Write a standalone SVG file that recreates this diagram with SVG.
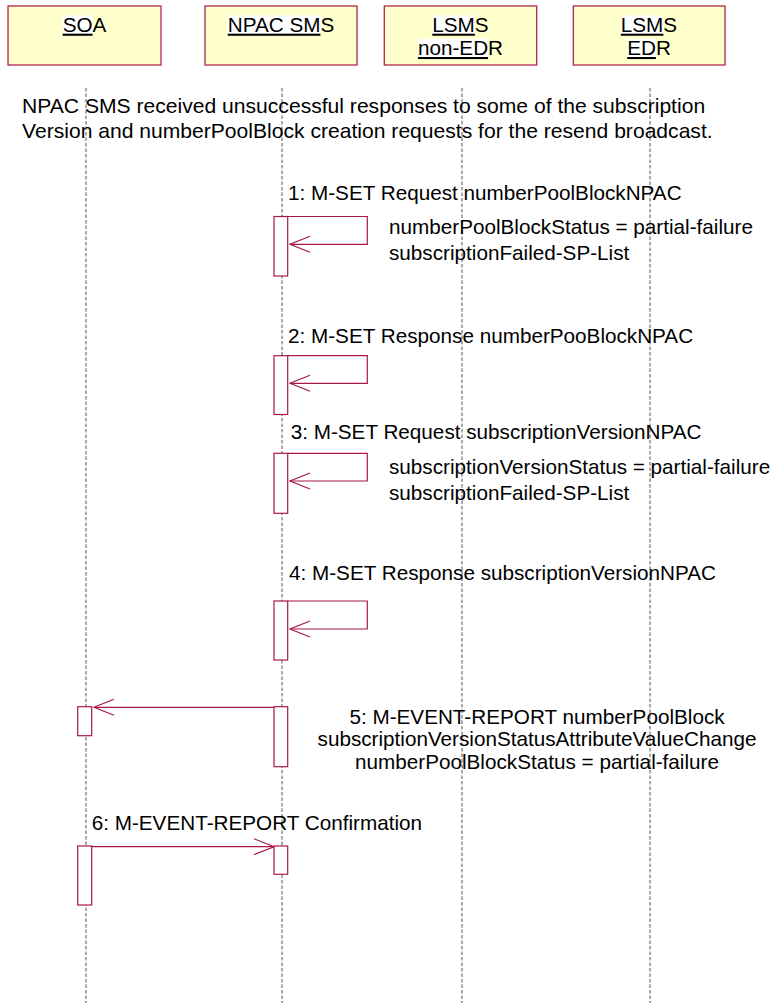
<svg xmlns="http://www.w3.org/2000/svg" width="774" height="1003" viewBox="0 0 774 1003">
<defs>
<style>
text{font-family:"Liberation Sans",Arial,sans-serif;font-size:20.7px;fill:#000}
.big{font-size:21.1px}
.hdr{fill:#FFFFCC;stroke:#B0254F;stroke-width:1.3}
.hl{fill:#fff}
.life{stroke:#555;stroke-width:1;stroke-dasharray:3.5,2;fill:none}
.bar{fill:#fff;stroke:#A8174B;stroke-width:1.2}
.msg{fill:none;stroke:#A8174B;stroke-width:1.2}
.u{text-decoration:underline}
.c{text-anchor:middle}
</style>
<marker id="open" viewBox="0 0 22 18" refX="21" refY="9" markerWidth="22" markerHeight="18" markerUnits="userSpaceOnUse" orient="auto">
<path d="M1,1 L21,9 L1,17" fill="none" stroke="#A8174B" stroke-width="1.2"/>
</marker>
</defs>
<rect width="774" height="1003" fill="#fff"/>

<g id="lifelines">
<line class="life" x1="86" y1="88" x2="86" y2="1003"/>
<line class="life" x1="282" y1="88" x2="282" y2="1003"/>
<line class="life" x1="462" y1="88" x2="462" y2="1003"/>
<line class="life" x1="650" y1="88" x2="650" y2="1003"/>
</g>

<g id="SOA">
<rect class="hdr" x="8" y="6" width="153" height="59"/>
<rect class="hl" x="62.6" y="15.5" width="29.9" height="19"/>
<text class="c" x="84.5" y="31.7"><tspan class="u">SO</tspan>A</text>
</g>
<g id="NPAC_SMS">
<rect class="hdr" x="205" y="6" width="152" height="59"/>
<rect class="hl" x="227" y="15.5" width="94.3" height="19"/>
<text class="c" x="281" y="31.7"><tspan class="u">NPAC SM</tspan>S</text>
</g>
<g id="LSMS_nonEDR">
<rect class="hdr" x="384.3" y="6" width="152.4" height="59"/>
<rect class="hl" x="432.3" y="15.5" width="42.6" height="19"/>
<rect class="hl" x="417.9" y="38.8" width="70.2" height="19"/>
<text class="c" x="460.5" y="31.7"><tspan class="u">LSM</tspan>S</text>
<text class="c" x="460.5" y="55"><tspan class="u">non-ED</tspan>R</text>
</g>
<g id="LSMS_EDR">
<rect class="hdr" x="573.3" y="6" width="151.7" height="59"/>
<rect class="hl" x="620.8" y="15.5" width="42.6" height="19"/>
<rect class="hl" x="627.2" y="38.8" width="28.8" height="19"/>
<text class="c" x="649" y="31.7"><tspan class="u">LSM</tspan>S</text>
<text class="c" x="649" y="55"><tspan class="u">ED</tspan>R</text>
</g>

<g id="note">
<text class="big" x="22" y="113.3">NPAC SMS received unsuccessful responses to some of the subscription</text>
<text class="big" x="22" y="138.3">Version and numberPoolBlock creation requests for the resend broadcast.</text>
</g>

<g id="activations">
<rect class="bar" x="274" y="216.5" width="13.7" height="59.5"/>
<rect class="bar" x="274" y="355.7" width="13.7" height="58.8"/>
<rect class="bar" x="274" y="453.3" width="13.7" height="60"/>
<rect class="bar" x="274" y="601" width="13.7" height="59"/>
<rect class="bar" x="77.7" y="706.7" width="14" height="29"/>
<rect class="bar" x="274" y="706.7" width="13.7" height="60"/>
<rect class="bar" x="77.7" y="846" width="14" height="59"/>
<rect class="bar" x="274" y="846" width="13.7" height="28.3"/>
</g>

<g id="connectors">
<path class="msg" d="M287.7,216.5 H367.3 V244.3 H290" marker-end="url(#open)"/>
<path class="msg" d="M287.7,355.7 H367.3 V383.3 H290" marker-end="url(#open)"/>
<path class="msg" d="M287.7,453.3 H367.3 V481 H290" marker-end="url(#open)"/>
<path class="msg" d="M287.7,601 H367.3 V629 H290" marker-end="url(#open)"/>
<path class="msg" d="M274,707.3 H94" marker-end="url(#open)"/>
<path class="msg" d="M92,846.7 H274" marker-end="url(#open)"/>
</g>

<g id="labels">
<text x="288" y="200">1: M-SET Request numberPoolBlockNPAC</text>
<text x="389" y="234">numberPoolBlockStatus = partial-failure</text>
<text x="389" y="260">subscriptionFailed-SP-List</text>
<text x="288" y="343">2: M-SET Response numberPooBlockNPAC</text>
<text x="290.7" y="439">3: M-SET Request subscriptionVersionNPAC</text>
<text x="389" y="474">subscriptionVersionStatus = partial-failure</text>
<text x="389" y="499.5">subscriptionFailed-SP-List</text>
<text x="289" y="580">4: M-SET Response subscriptionVersionNPAC</text>
<text class="c" x="537" y="723.5">5: M-EVENT-REPORT numberPoolBlock</text>
<text class="c" x="537" y="746">subscriptionVersionStatusAttributeValueChange</text>
<text class="c" x="537" y="768.5">numberPoolBlockStatus = partial-failure</text>
<text x="91.7" y="830">6: M-EVENT-REPORT Confirmation</text>
</g>
</svg>
